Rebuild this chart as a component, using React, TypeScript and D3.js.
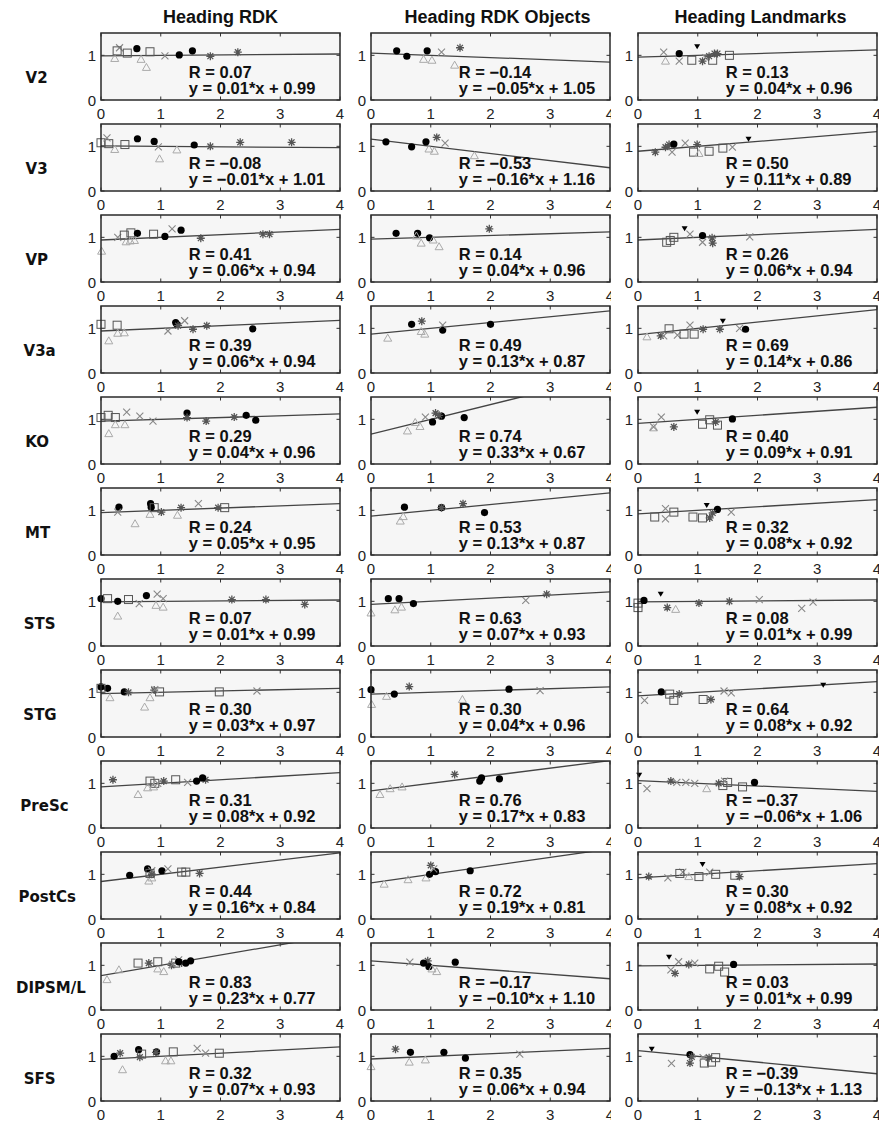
import React, { useLayoutEffect, useRef } from 'react';
import * as d3 from 'd3';

// Cortical regions (rows) and heading conditions (columns)
const regions = ['V2', 'V3', 'VP', 'V3a', 'KO', 'MT', 'STS', 'STG', 'PreSc', 'PostCs', 'DIPSM/L', 'SFS'];
const conditions = ['Heading RDK', 'Heading RDK Objects', 'Heading Landmarks'];
const xTicks = [0, 1, 2, 3, 4];
const yTicks = [0, 1];

// Linear fits per region
const rdkR = [0.07, -0.08, 0.41, 0.39, 0.29, 0.24, 0.07, 0.30, 0.31, 0.44, 0.83, 0.32];
const rdkSlope = [0.01, -0.01, 0.06, 0.06, 0.04, 0.05, 0.01, 0.03, 0.08, 0.16, 0.23, 0.07];
const rdkIntercept = [0.99, 1.01, 0.94, 0.94, 0.96, 0.95, 0.99, 0.97, 0.92, 0.84, 0.77, 0.93];

const objR = [-0.14, -0.53, 0.14, 0.49, 0.74, 0.53, 0.63, 0.30, 0.76, 0.72, -0.17, 0.35];
const objSlope = [-0.05, -0.16, 0.04, 0.13, 0.33, 0.13, 0.07, 0.04, 0.17, 0.19, -0.10, 0.06];
const objIntercept = [1.05, 1.16, 0.96, 0.87, 0.67, 0.87, 0.93, 0.96, 0.83, 0.81, 1.10, 0.94];

const lmkR = [0.13, 0.50, 0.26, 0.69, 0.40, 0.32, 0.08, 0.64, -0.37, 0.30, 0.03, -0.39];
const lmkSlope = [0.04, 0.11, 0.06, 0.14, 0.09, 0.08, 0.01, 0.08, -0.06, 0.08, 0.01, -0.13];
const lmkIntercept = [0.96, 0.89, 0.94, 0.86, 0.91, 0.92, 0.99, 0.92, 1.06, 0.92, 0.99, 1.13];

// Subject points: [x, y, marker]; o = circle, * = asterisk, ^ = triangle, x = cross, s = square, v = down triangle
type Pt = [number, number, string];

const rdkPoints: Pt[][] = [
  [[0.23, 0.93, '^'], [0.67, 0.91, '^'], [0.76, 0.73, '^'], [0.31, 1.17, 'x'], [1.07, 0.99, 'x'], [0.27, 1.1, 's'], [0.44, 1.05, 's'], [0.82, 1.08, 's'], [0.6, 1.15, 'o'], [1.31, 1.01, 'o'], [1.53, 1.1, 'o'], [1.83, 0.98, '*'], [2.29, 1.07, '*']],
  [[0, 1.08, 's'], [0.13, 1.06, 's'], [0.4, 1.04, 's'], [0.1, 1.19, 'x'], [0.96, 0.99, 'x'], [0.23, 0.93, '^'], [0.98, 0.72, '^'], [1.27, 0.92, '^'], [0.61, 1.17, 'o'], [0.89, 1.11, 'o'], [1.56, 1.03, 'o'], [1.83, 1.0, '*'], [2.33, 1.09, '*'], [3.19, 1.09, '*']],
  [[0.01, 0.69, '^'], [0.42, 0.9, '^'], [0.49, 0.92, '^'], [0.56, 0.93, '^'], [0.28, 1.0, 'x'], [1.19, 1.19, 'x'], [0.39, 1.05, 's'], [0.5, 1.1, 's'], [0.88, 1.07, 's'], [0.61, 1.09, 'o'], [1.07, 1.02, 'o'], [1.34, 1.16, 'o'], [1.67, 0.98, '*'], [2.71, 1.07, '*'], [2.82, 1.07, '*']],
  [[0, 1.09, 's'], [0.27, 1.07, 's'], [0.13, 0.72, '^'], [0.28, 0.89, '^'], [0.39, 0.9, '^'], [1.25, 1.13, 'o'], [1.27, 1.09, 'o'], [2.54, 0.99, 'o'], [1.12, 0.94, 'x'], [1.4, 1.17, 'x'], [1.29, 1.06, '*'], [1.54, 0.98, '*'], [1.77, 1.06, '*']],
  [[0, 1.04, 's'], [0.12, 1.09, 's'], [0.24, 1.04, 's'], [0.13, 0.68, '^'], [0.24, 0.88, '^'], [0.4, 0.88, '^'], [0.43, 1.16, 'x'], [0.65, 1.07, 'x'], [0.87, 0.96, 'x'], [1.44, 1.14, 'o'], [2.43, 1.09, 'o'], [2.59, 0.98, 'o'], [1.44, 1.04, '*'], [1.76, 0.96, '*'], [2.23, 1.05, '*']],
  [[0.3, 1.07, 'o'], [0.83, 1.15, 'o'], [0.84, 1.07, 'o'], [0.28, 0.96, 'x'], [1.63, 1.15, 'x'], [0.57, 0.7, '^'], [0.82, 0.91, '^'], [1.28, 0.89, '^'], [0.89, 1.06, 's'], [2.07, 1.06, 's'], [1.01, 0.96, '*'], [1.34, 1.06, '*'], [1.96, 1.06, '*']],
  [[0, 1.06, 'o'], [0.28, 1.0, 'o'], [0.76, 1.13, 'o'], [0.11, 1.06, 's'], [0.46, 1.04, 's'], [0.64, 0.95, 'x'], [0.94, 1.16, 'x'], [1.04, 1.06, 'x'], [0.28, 0.67, '^'], [0.92, 0.91, '^'], [1.04, 0.87, '^'], [2.19, 1.04, '*'], [2.76, 1.04, '*'], [3.41, 0.93, '*']],
  [[0, 1.12, 'o'], [0.11, 1.09, 'o'], [0.39, 1.01, 'o'], [0, 1.09, 's'], [0.98, 1.01, 's'], [1.98, 1.01, 's'], [0.15, 0.88, '^'], [0.73, 0.67, '^'], [0.82, 0.88, '^'], [0.46, 1.0, '*'], [0.89, 1.05, '*'], [0.9, 1.06, 'x'], [2.61, 1.03, 'x']],
  [[0.2, 1.08, '*'], [1.05, 1.05, '*'], [1.75, 1.08, '*'], [0.82, 1.05, 's'], [0.9, 1.0, 's'], [1.25, 1.08, 's'], [0.62, 0.75, '^'], [0.78, 0.9, '^'], [0.88, 0.92, '^'], [0.95, 1.0, 'x'], [1.45, 1.02, 'x'], [1.6, 1.05, 'o'], [1.7, 1.12, 'o']],
  [[0.48, 0.98, 'o'], [0.78, 1.12, 'o'], [1.02, 1.08, 'o'], [0.85, 1.08, 'x'], [1.12, 1.12, 'x'], [0.8, 0.85, '^'], [0.85, 0.92, '^'], [0.82, 1.02, 's'], [1.35, 1.05, 's'], [1.42, 1.05, 's'], [0.85, 1.0, '*'], [1.65, 1.02, '*']],
  [[0.1, 0.68, '^'], [0.3, 0.9, '^'], [0.95, 0.92, '^'], [1.05, 0.86, '^'], [0.62, 1.05, 's'], [0.95, 1.08, 's'], [1.25, 1.05, 's'], [0.8, 1.05, '*'], [1.18, 1.0, '*'], [1.35, 1.05, '*'], [1.2, 1.02, 'x'], [1.3, 1.12, 'x'], [1.3, 1.08, 'o'], [1.42, 1.05, 'o'], [1.5, 1.1, 'o']],
  [[0.22, 1.0, 'o'], [0.63, 1.15, 'o'], [0.93, 1.1, 'o'], [0.32, 1.07, '*'], [0.65, 0.98, '*'], [0.92, 1.09, '*'], [0.36, 0.7, '^'], [1.08, 0.9, '^'], [1.17, 0.9, '^'], [0.68, 1.05, 's'], [1.21, 1.1, 's'], [1.98, 1.07, 's'], [1.61, 1.18, 'x'], [1.75, 1.07, 'x']],
];

const objPoints: Pt[][] = [
  [[0.43, 1.1, 'o'], [0.6, 0.98, 'o'], [0.94, 1.1, 'o'], [0.88, 0.91, '^'], [1.02, 0.89, '^'], [1.4, 0.78, '^'], [1.18, 1.07, 'x'], [1.49, 1.17, '*']],
  [[0.25, 1.1, 'o'], [0.68, 0.99, 'o'], [0.92, 1.1, 'o'], [1.1, 1.2, '*'], [1.24, 1.07, 'x'], [0.97, 0.94, '^'], [1.06, 0.89, '^'], [1.73, 0.79, '^']],
  [[0.42, 1.09, 'o'], [0.78, 1.09, 'o'], [0.98, 0.99, 'o'], [0.84, 0.87, '^'], [1.04, 0.94, '^'], [1.14, 0.79, '^'], [0.76, 1.03, '^'], [1.98, 1.19, '*']],
  [[0.28, 0.78, '^'], [0.84, 0.93, '^'], [0.9, 0.87, '^'], [0.68, 1.09, 'o'], [1.2, 0.96, 'o'], [2.0, 1.09, 'o'], [0.85, 1.16, '*'], [1.2, 1.07, 'x']],
  [[0.61, 0.74, '^'], [0.74, 0.93, '^'], [0.82, 0.84, '^'], [0.91, 1.05, 'x'], [1.03, 0.94, 'o'], [1.18, 1.07, 'o'], [1.56, 1.04, 'o'], [1.08, 1.14, '*'], [1.14, 1.09, '*']],
  [[0.56, 1.07, 'o'], [1.18, 1.06, 'o'], [1.9, 0.95, 'o'], [0.49, 0.76, '^'], [0.54, 0.86, '^'], [1.54, 1.15, '*'], [1.18, 1.06, '*']],
  [[0, 0.74, '^'], [0.4, 0.81, '^'], [0.51, 0.87, '^'], [0.29, 1.06, 'o'], [0.47, 1.06, 'o'], [0.71, 0.95, 'o'], [2.59, 1.02, 'x'], [2.94, 1.16, '*']],
  [[0, 1.06, 'o'], [0.39, 0.96, 'o'], [2.31, 1.07, 'o'], [0.01, 0.73, '^'], [0.26, 0.91, '^'], [1.53, 0.84, '^'], [0.64, 1.13, '*'], [2.83, 1.04, 'x']],
  [[0.15, 0.75, '^'], [0.32, 0.88, '^'], [0.52, 0.92, '^'], [1.4, 1.2, '*'], [1.82, 1.05, 'o'], [1.85, 1.12, 'o'], [2.15, 1.1, 'o']],
  [[0.22, 0.78, '^'], [0.62, 0.88, '^'], [0.92, 0.92, '^'], [0.98, 1.0, 'o'], [1.08, 1.06, 'o'], [1.66, 1.08, 'o'], [1.0, 1.2, '*'], [1.05, 1.12, 'x']],
  [[0.65, 1.07, 'x'], [0.95, 1.1, '*'], [0.88, 1.05, 'o'], [0.97, 0.97, 'o'], [1.41, 1.07, 'o'], [1.02, 0.92, '^'], [1.1, 0.86, '^']],
  [[0, 0.77, '^'], [0.64, 0.87, '^'], [0.91, 0.92, '^'], [0.41, 1.16, '*'], [0.66, 1.09, 'o'], [1.22, 1.09, 'o'], [1.58, 0.96, 'o'], [2.49, 1.05, 'x']],
];

const lmkPoints: Pt[][] = [
  [[0.43, 1.07, 'x'], [0.69, 0.87, 'x'], [1.13, 0.95, 'x'], [0.46, 0.87, '^'], [0.69, 1.04, 'o'], [0.99, 1.19, 'v'], [0.9, 0.89, 's'], [1.25, 0.89, 's'], [1.53, 1.0, 's'], [1.08, 0.87, '*'], [1.19, 0.98, '*'], [1.28, 1.04, '*'], [1.33, 1.04, '*']],
  [[0.29, 0.87, '*'], [0.46, 0.98, '*'], [0.52, 1.04, '*'], [0.99, 1.04, '*'], [0.57, 0.87, 'x'], [0.79, 1.07, 'x'], [1.58, 0.98, 'x'], [0.6, 1.05, 'o'], [0.93, 0.87, 's'], [1.19, 0.89, 's'], [1.42, 0.96, 's'], [1.02, 0.84, '^'], [1.85, 1.16, 'v']],
  [[0.48, 0.89, 's'], [0.54, 0.93, 's'], [0.6, 1.0, 's'], [0.78, 1.19, 'v'], [0.87, 1.07, 'x'], [1.08, 0.89, 'x'], [1.87, 1.01, 'x'], [1.08, 1.04, 'o'], [1.24, 0.99, '*'], [1.25, 0.87, '*']],
  [[0.15, 0.81, '^'], [0.38, 0.83, '*'], [1.09, 0.98, '*'], [1.37, 0.98, '*'], [0.43, 0.83, 'x'], [0.66, 0.85, 'x'], [0.87, 1.07, 'x'], [1.7, 1.0, 'x'], [0.52, 0.99, 's'], [0.77, 0.87, 's'], [0.94, 0.87, 's'], [1.42, 1.16, 'v'], [1.8, 0.98, 'o']],
  [[0.26, 0.81, '^'], [0.26, 0.83, 'x'], [0.39, 1.05, 'x'], [0.6, 0.83, '*'], [1.3, 0.94, '*'], [0.99, 1.16, 'v'], [1.08, 0.89, 's'], [1.2, 0.99, 's'], [1.33, 0.87, 's'], [1.58, 1.01, 'o']],
  [[0.28, 0.85, 's'], [0.6, 0.96, 's'], [0.92, 0.85, 's'], [1.08, 0.83, 's'], [0.46, 1.04, 'x'], [0.46, 0.81, 'x'], [1.56, 0.96, 'x'], [1.15, 1.11, 'v'], [1.33, 1.02, 'o'], [1.2, 0.83, '*'], [1.25, 0.94, '*']],
  [[0, 0.96, 's'], [0, 0.86, 's'], [0.1, 1.02, 'o'], [0.38, 1.16, 'v'], [0.49, 0.86, '*'], [1.02, 0.96, '*'], [1.53, 1.0, '*'], [0.63, 0.82, '^'], [2.03, 1.04, 'x'], [2.74, 0.84, 'x'], [2.93, 0.98, 'x']],
  [[0.11, 0.82, 'x'], [1.44, 1.03, 'x'], [1.56, 0.99, 'x'], [0.39, 1.01, 'o'], [0.53, 0.96, 's'], [0.6, 0.82, 's'], [1.09, 0.84, 's'], [0.69, 0.96, '*'], [1.22, 0.84, '*'], [3.1, 1.16, 'v']],
  [[0.02, 1.18, 'v'], [0.15, 0.88, 'x'], [0.55, 1.05, '*'], [0.65, 1.02, 'x'], [0.8, 1.02, 'x'], [0.95, 1.0, 'x'], [1.15, 0.88, '^'], [1.35, 1.0, '*'], [1.42, 0.95, 's'], [1.5, 1.02, 's'], [1.75, 0.92, 's'], [1.45, 1.05, 'x'], [1.95, 1.02, 'o']],
  [[0.18, 0.95, '*'], [1.7, 0.95, '*'], [0.5, 0.92, 'x'], [0.75, 1.05, 'x'], [1.2, 1.05, 'x'], [0.7, 1.02, 's'], [1.02, 0.95, 's'], [1.3, 1.0, 's'], [1.62, 0.98, 's'], [0.85, 0.95, '^'], [1.08, 1.22, 'v']],
  [[0.52, 1.18, 'v'], [0.55, 0.9, 'x'], [0.62, 0.82, '*'], [0.85, 1.02, '*'], [0.68, 1.08, 'x'], [0.95, 1.05, 'x'], [1.2, 0.92, 's'], [1.35, 0.98, 's'], [1.45, 0.85, 's'], [1.6, 1.02, 'o']],
  [[0.23, 1.16, 'v'], [0.56, 0.84, 'x'], [0.87, 1.04, 'o'], [0.87, 0.85, '*'], [0.9, 0.99, '*'], [1.11, 0.85, 's'], [1.23, 0.87, 's'], [1.3, 0.97, 's'], [1.09, 0.97, 'x'], [1.19, 0.97, '*']],
];

const columnR = [rdkR, objR, lmkR];
const columnSlope = [rdkSlope, objSlope, lmkSlope];
const columnIntercept = [rdkIntercept, objIntercept, lmkIntercept];
const columnPoints = [rdkPoints, objPoints, lmkPoints];

// Layout
const W = 879;
const H = 1127;
const colLeft = [101, 371, 638];
const panelW = 239;
const rowTop0 = 33;
const rowPitch = 91;
const panelH = 67;
const titleShift = [0, 7, 3];

const fmt = (v: number) => (v < 0 ? '\u2212' + Math.abs(v).toFixed(2) : v.toFixed(2));

const Marker = ({ x, y, m }: { x: number; y: number; m: string }) => {
  switch (m) {
    case 'o':
      return <circle cx={x} cy={y} r={3.6} fill="#000" />;
    case '*': {
      const a = 4;
      const b = 2.9;
      return (
        <path
          d={`M${x - a},${y}H${x + a}M${x},${y - a}V${y + a}M${x - b},${y - b}L${x + b},${y + b}M${x - b},${y + b}L${x + b},${y - b}`}
          stroke="#555"
          strokeWidth={1.3}
          fill="none"
        />
      );
    }
    case '^':
      return <path d={`M${x},${y - 4}L${x + 4},${y + 3}L${x - 4},${y + 3}Z`} stroke="#aaa" strokeWidth={1} fill="none" />;
    case 'x': {
      const a = 3.5;
      return <path d={`M${x - a},${y - a}L${x + a},${y + a}M${x - a},${y + a}L${x + a},${y - a}`} stroke="#888" strokeWidth={1.1} fill="none" />;
    }
    case 's':
      return <rect x={x - 4} y={y - 4} width={8} height={8} stroke="#555" strokeWidth={1} fill="none" />;
    case 'v':
      return <path d={`M${x - 3},${y - 2.5}L${x + 3},${y - 2.5}L${x},${y + 2.5}Z`} fill="#000" />;
    default:
      return null;
  }
};

const Panel = ({ col, row }: { col: number; row: number }) => {
  const left = colLeft[col];
  const top = rowTop0 + row * rowPitch;
  const x = d3.scaleLinear().domain([0, 4]).range([left, left + panelW]);
  const y = d3.scaleLinear().domain([0, 1.5]).range([top + panelH, top]);
  const slope = columnSlope[col][row];
  const icpt = columnIntercept[col][row];
  const r = columnR[col][row];
  const fitLine = d3.line<number>().x((d) => x(d)).y((d) => y(slope * d + icpt));
  const clipId = `clip-${col}-${row}`;
  const tick = 3.5;
  return (
    <g>
      <defs>
        <clipPath id={clipId}>
          <rect x={left} y={top} width={panelW} height={panelH} />
        </clipPath>
      </defs>
      <rect x={left} y={top} width={panelW} height={panelH} fill="#f6f6f6" />
      {xTicks.map((t) => (
        <g key={'xt' + t}>
          <line x1={x(t)} x2={x(t)} y1={top + panelH} y2={top + panelH - tick} stroke="#333" strokeWidth={1} />
          <line x1={x(t)} x2={x(t)} y1={top} y2={top + tick} stroke="#333" strokeWidth={1} />
        </g>
      ))}
      {yTicks.map((t) => (
        <g key={'yt' + t}>
          <line x1={left} x2={left + tick} y1={y(t)} y2={y(t)} stroke="#333" strokeWidth={1} />
          <line x1={left + panelW} x2={left + panelW - tick} y1={y(t)} y2={y(t)} stroke="#333" strokeWidth={1} />
          <text
            x={left - 5}
            y={y(t)}
            textAnchor="end"
            dominantBaseline="central"
            fontFamily="'Liberation Sans', Arial, sans-serif"
            fontSize={15}
            fill="#222"
          >
            {t}
          </text>
        </g>
      ))}
      <path d={fitLine([0, 4]) || ''} stroke="#444" strokeWidth={1.3} fill="none" clipPath={`url(#${clipId})`} />
      {columnPoints[col][row].map((p, i) => (
        <Marker key={i} x={x(p[0])} y={y(p[1])} m={p[2]} />
      ))}
      <rect x={left} y={top} width={panelW} height={panelH} fill="none" stroke="#2a2a2a" strokeWidth={1.5} />
      <g fontFamily="'Liberation Sans', Arial, sans-serif" fontWeight="bold" fontSize={16.5} fill="#111">
        <text x={x(1.47)} y={y(0.49)}>{`R = ${fmt(r)}`}</text>
        <text x={x(1.47)} y={y(0.13)}>{`y = ${fmt(slope)}*x + ${fmt(icpt)}`}</text>
      </g>
      <g clipPath={col === 1 ? 'url(#col2-labels)' : undefined}>
        {xTicks.map((t) => (
          <text
            key={'xl' + t}
            x={x(t)}
            y={top + panelH + 19}
            textAnchor="middle"
            fontFamily="'Liberation Sans', Arial, sans-serif"
            fontSize={15}
            fill="#222"
          >
            {t}
          </text>
        ))}
      </g>
    </g>
  );
};

export default function App() {
  const labelRef = useRef<SVGGElement>(null);

  // Row names sit slightly shifted left in proportion to their width
  useLayoutEffect(() => {
    const g = labelRef.current;
    if (!g) return;
    g.querySelectorAll('text').forEach((t) => {
      const w = (t as SVGTextElement).getComputedTextLength();
      t.setAttribute('x', String(30 - 0.2 * w));
    });
  }, []);

  return (
    <svg width={W} height={H} style={{ position: 'absolute', left: 0, top: 0, background: '#fff' }}>
      <defs>
        <clipPath id="col2-labels">
          <rect x={0} y={0} width={611} height={H} />
        </clipPath>
      </defs>
      <rect x={0} y={0} width={W} height={H} fill="#fff" />
      {conditions.map((c, i) => (
        <text
          key={c}
          x={colLeft[i] + panelW / 2 + titleShift[i]}
          y={23}
          textAnchor="middle"
          fontFamily="'Liberation Sans', Arial, sans-serif"
          fontWeight="bold"
          fontSize={18}
          fill="#111"
        >
          {c}
        </text>
      ))}
      <g ref={labelRef} fontFamily="'DejaVu Sans', sans-serif" fontWeight="bold" fontSize={15} fill="#111">
        {regions.map((r, i) => (
          <text key={r} x={25} y={rowTop0 + i * rowPitch + 50}>
            {r}
          </text>
        ))}
      </g>
      {regions.map((_, row) =>
        conditions.map((__, col) => <Panel key={`${row}-${col}`} col={col} row={row} />)
      )}
    </svg>
  );
}
